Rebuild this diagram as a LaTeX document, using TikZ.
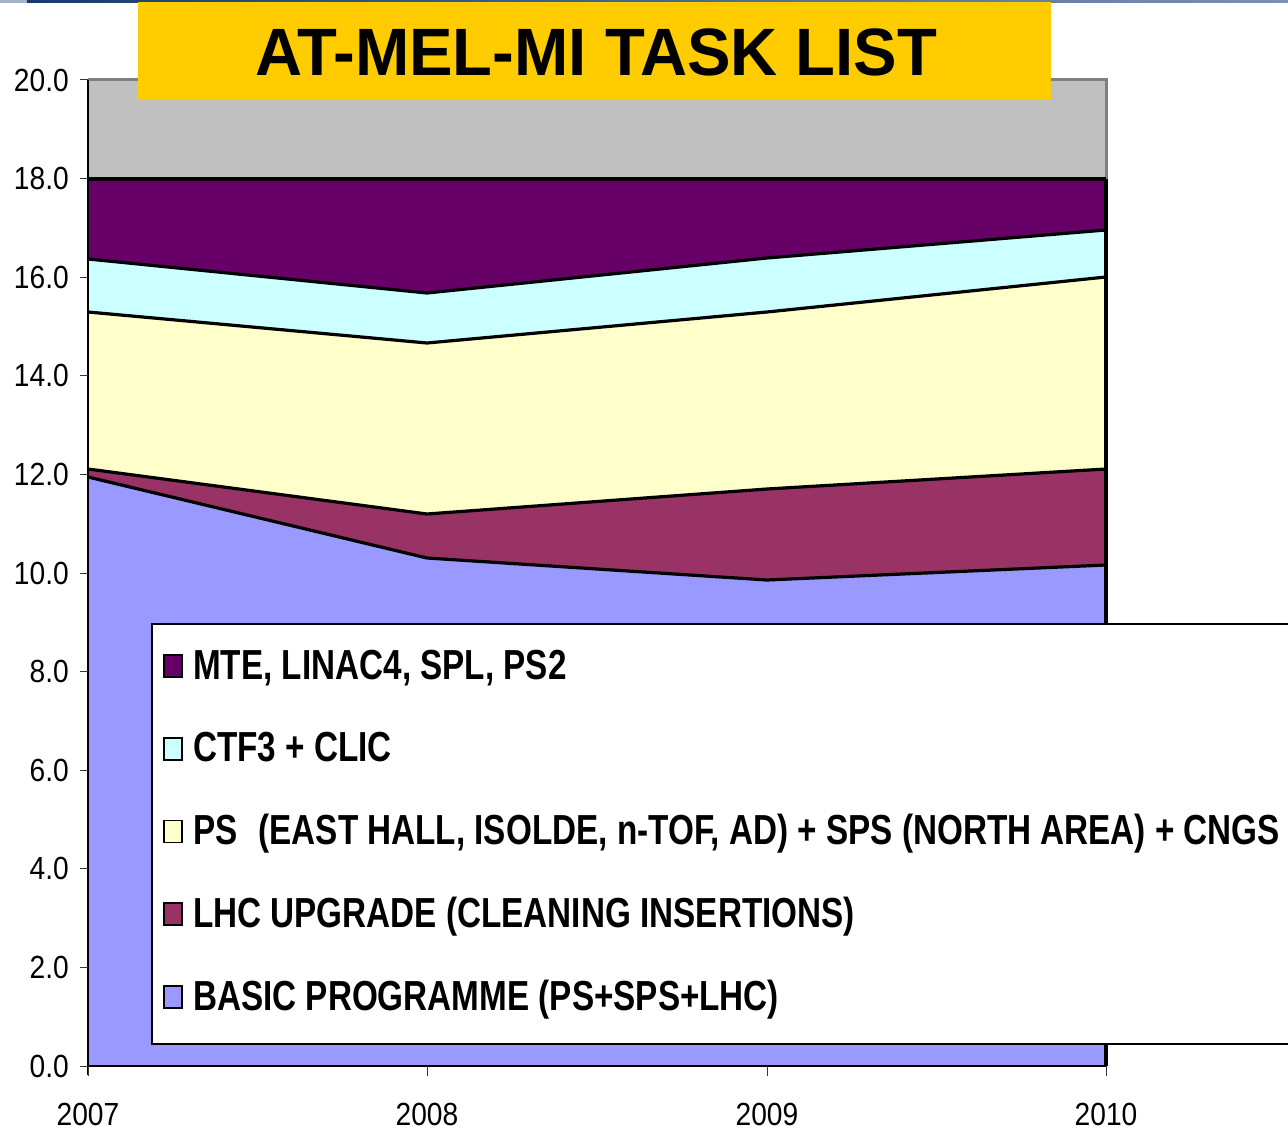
\documentclass[tikz,border=0pt]{standalone}
\usepackage{fontspec}
\setmainfont{Liberation Sans}
\newfontfamily\titlefont{Liberation Sans}[FakeStretch=0.973]
\newfontfamily\axisfont{Liberation Sans}[FakeStretch=0.88]
\newfontfamily\legfont{Liberation Sans}[FakeStretch=0.792]
\definecolor{mtec}{HTML}{660066}
\definecolor{ctfc}{HTML}{CCFFFF}
\definecolor{psc}{HTML}{FFFFCC}
\definecolor{lhcc}{HTML}{993366}
\definecolor{basc}{HTML}{9999FF}
\definecolor{plotbg}{HTML}{C0C0C0}
\definecolor{plotborder}{HTML}{808080}
\definecolor{titley}{HTML}{FFCC00}
\definecolor{bandL}{HTML}{1B3A6B}
\definecolor{bandR}{HTML}{7A91B0}
\tikzset{
  series/.style={line width=3.2pt, line join=round, black},
  axislabel/.style={font=\axisfont\fontsize{32}{34}\selectfont, inner sep=0pt},
  legtext/.style={font=\legfont\bfseries\fontsize{42}{44}\selectfont, inner sep=0pt, anchor=base west},
  legkey/.style={draw=black, line width=1.8pt},
}
\begin{document}
\begin{tikzpicture}[x=1pt,y=-1pt]
\useasboundingbox (0,0) rectangle (1288,1134);
\fill[white] (0,0) rectangle (1288,1134);
% top band
\fill[bandR!70!white] (0,0) rectangle (27,3);
\shade[left color=bandL, right color=bandR] (27,0) rectangle (1288,3);
% plot area
\fill[plotbg] (88,80) rectangle (1106,1066);
\draw[plotborder, line width=3pt] (88,80) -- (1106,80) -- (1106,180);
% data points
\coordinate (b1) at (88,477);  \coordinate (b2) at (427,558); \coordinate (b3) at (767,580); \coordinate (b4) at (1106,565);
\coordinate (l1) at (88,469);  \coordinate (l2) at (427,514); \coordinate (l3) at (767,489); \coordinate (l4) at (1106,469);
\coordinate (p1) at (88,312);  \coordinate (p2) at (427,343); \coordinate (p3) at (767,312); \coordinate (p4) at (1106,277);
\coordinate (c1) at (88,259);  \coordinate (c2) at (427,293); \coordinate (c3) at (767,258); \coordinate (c4) at (1106,230);
\coordinate (m1) at (88,179);  \coordinate (m4) at (1106,179);
\coordinate (o1) at (88,1066); \coordinate (o4) at (1106,1066);
% areas
\fill[basc] (o1) -- (b1) -- (b2) -- (b3) -- (b4) -- (o4) -- cycle;
\fill[lhcc] (b1) -- (b2) -- (b3) -- (b4) -- (l4) -- (l3) -- (l2) -- (l1) -- cycle;
\fill[psc] (l1) -- (l2) -- (l3) -- (l4) -- (p4) -- (p3) -- (p2) -- (p1) -- cycle;
\fill[ctfc] (p1) -- (p2) -- (p3) -- (p4) -- (c4) -- (c3) -- (c2) -- (c1) -- cycle;
\fill[mtec] (c1) -- (c2) -- (c3) -- (c4) -- (m4) -- (m1) -- cycle;
% boundaries
\draw[series] (b1) -- (b2) -- (b3) -- (b4);
\draw[series] (l1) -- (l2) -- (l3) -- (l4);
\draw[series] (p1) -- (p2) -- (p3) -- (p4);
\draw[series] (c1) -- (c2) -- (c3) -- (c4);
\draw[series] (m1) -- (m4);
\draw[series] (m4) -- (o4);
% axes
\draw[black, line width=1.6pt] (88,80) -- (88,1075);
\draw[black, line width=2.4pt] (o1) -- (o4);
\foreach \v/\lab in {0/0.0,2/2.0,4/4.0,6/6.0,8/8.0,10/10.0,12/12.0,14/14.0,16/16.0,18/18.0,20/20.0}{
  \draw[black!80, line width=1pt] (80,{1066-49.3*\v}) -- (88,{1066-49.3*\v});
  \node[axislabel, anchor=east] (y\v) at (69,{1066-49.3*\v}) {\lab};
}
\foreach \x/\yr in {88/2007,427/2008,767/2009,1106/2010}{
  \draw[black!80, line width=1pt] (\x,1066) -- (\x,1076);
  \node[axislabel] (x\yr) at (\x,1114) {\yr};
}
% legend
\draw[black, line width=1.5pt, fill=white] (152,624) rectangle (1310,1044);
\foreach \i/\col/\txt in {0/mtec/{MTE, LINAC4, SPL, PS2},
                         1/ctfc/{CTF3 + CLIC},
                         2/psc/{PS\hspace{0.5em}(EAST HALL, ISOLDE, n-TOF, AD) + SPS (NORTH AREA) + CNGS},
                         3/lhcc/{LHC UPGRADE (CLEANING INSERTIONS)},
                         4/basc/{BASIC PROGRAMME (PS+SPS+LHC)}}{
  \pgfmathsetmacro{\by}{679+82.75*\i}
  \filldraw[legkey, fill=\col] (164,\by-24) rectangle (182,\by-2);
  \node[legtext] (leg\i) at (193,\by) {\txt};
}
% title
\fill[titley] (138,2) rectangle (1051,99);
\node[font=\titlefont\bfseries\fontsize{67}{70}\selectfont, anchor=base, inner sep=0pt] (title) at (596,76) {AT-MEL-MI TASK LIST};
\end{tikzpicture}
\end{document}
